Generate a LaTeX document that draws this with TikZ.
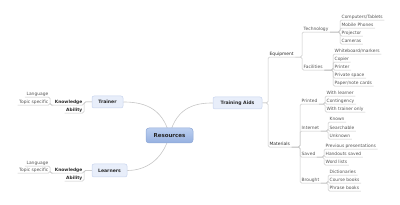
\documentclass[tikz,border=0pt]{standalone}
\usepackage{fontspec}
\setmainfont{DejaVu Sans}
\usetikzlibrary{backgrounds}
\definecolor{linec}{HTML}{C6C6C6}
\definecolor{leafc}{HTML}{555555}
\definecolor{darkc}{HTML}{2A2A2A}
\definecolor{boxfill}{HTML}{E8EEFA}
\definecolor{boxdraw}{HTML}{C7D4EE}
\definecolor{rtop}{HTML}{BCCFF0}
\definecolor{rbot}{HTML}{95B0E0}
\definecolor{rdraw}{HTML}{8EA8D6}
\begin{document}
\begin{tikzpicture}[x=1pt,y=-1pt,
  con/.style={draw=linec, line width=0.5pt, rounded corners=1.5pt},
  leaf/.style={inner xsep=1.5pt, inner ysep=0.8pt, text height=3.2pt, text depth=1pt,
    font=\fontsize{4.4}{5}\selectfont, text=leafc},
  rl/.style={leaf, anchor=west},
  ll/.style={leaf, anchor=east},
  sub/.style={text=darkc},
  subb/.style={text=darkc, font=\fontsize{4.4}{5}\selectfont\bfseries},
  mainbox/.style={draw=boxdraw, fill=boxfill, rounded corners=2pt, line width=0.5pt,
    font=\fontsize{4.6}{5}\selectfont\bfseries, text=darkc, inner sep=0pt, minimum height=12pt},
  rootbox/.style={draw=rdraw, top color=rtop, bottom color=rbot, rounded corners=3pt,
    line width=0.5pt, font=\fontsize{5.5}{6}\selectfont\bfseries, text=black!85,
    inner sep=0pt, minimum width=47pt, minimum height=15pt}]
\useasboundingbox (0,0) rectangle (400,205);

% main nodes
\node[rootbox] (res) at (169.5,135.5) {Resources};
\node[mainbox, minimum width=31pt] (tr) at (107.5,102) {Trainer};
\node[mainbox, minimum width=35pt, minimum height=13pt] (le) at (109.5,170.5) {Learners};
\node[mainbox, minimum width=49pt] (ta) at (237.5,103) {Training Aids};

% left: trainer
\node[ll, subb] (tk) at (84,102) {Knowledge};
\node[ll, subb] (tab) at (84,110) {Ability};
\node[ll] (tl) at (50,94) {Language};
\node[ll] (tt) at (50,102) {Topic specific};
% left: learners
\node[ll, subb] (lk) at (84,170) {Knowledge};
\node[ll, subb] (lab) at (84,178) {Ability};
\node[ll] (ll1) at (50,163) {Language};
\node[ll] (lt) at (50,170) {Topic specific};

% right: training aids
\node[rl, sub] (eq) at (268,54) {Equipment};
\node[rl, sub] (mat) at (268,144) {Materials};
\node[rl] (tech) at (302,29) {Technology};
\node[rl] (fac) at (302,67) {Facilities};
\node[rl] (t1) at (340,17) {Computers/Tablets};
\node[rl] (t2) at (340,25) {Mobile Phones};
\node[rl] (t3) at (340,33) {Projector};
\node[rl] (t4) at (340,41) {Cameras};
\node[rl] (f1) at (333,51) {Whiteboard/markers};
\node[rl] (f2) at (333,59) {Copier};
\node[rl] (f3) at (333,67) {Printer};
\node[rl] (f4) at (333,75) {Private space};
\node[rl] (f5) at (333,83) {Paper/note cards};
\node[rl] (pr) at (300,101) {Printed};
\node[rl] (in) at (300,128) {Internet};
\node[rl] (sa) at (300,154) {Saved};
\node[rl] (br) at (300,180) {Brought};
\node[rl] (p1) at (325,93) {With learner};
\node[rl] (p2) at (325,101) {Contingency};
\node[rl] (p3) at (325,109) {With trainer only};
\node[rl] (i1) at (328,119) {Known};
\node[rl] (i2) at (328,128) {Searchable};
\node[rl] (i3) at (328,136) {Unknown};
\node[rl] (s1) at (324,146) {Previous presentations};
\node[rl] (s2) at (324,154) {Handouts saved};
\node[rl] (s3) at (324,162) {Word lists};
\node[rl] (b1) at (328,172) {Dictionaries};
\node[rl] (b2) at (328,180) {Course books};
\node[rl] (b3) at (328,188) {Phrase books};

\begin{scope}[on background layer]
  % root curves
  \draw[draw=linec, line width=0.6pt] (res.center) .. controls +(-7,-30) and +(17,0) .. (tr.east);
  \draw[draw=linec, line width=0.6pt] (res.center) .. controls +(7,-30) and +(-15,0) .. (ta.west);
  \draw[draw=linec, line width=0.6pt] (res.center) .. controls +(-7,25) and +(18,0) .. (le.east);
  % trainer
  \foreach \c in {tk,tab} \draw[con] (tr.west) -- (tr.west -| \c.south east) |- (\c.south west);
  \foreach \c in {tl,tt} \draw[con] (tk.south west) -- (tk.south west -| \c.south east) |- (\c.south west);
  % learners
  \foreach \c in {lk,lab} \draw[con] (le.west) -- (le.west -| \c.south east) |- (\c.south west);
  \foreach \c in {ll1,lt} \draw[con] (lk.south west) -- (lk.south west -| \c.south east) |- (\c.south west);
  % training aids
  \foreach \c in {eq,mat} \draw[con] (ta.east) -- (ta.east -| \c.south west) |- (\c.south east);
  \foreach \c in {tech,fac} \draw[con] (eq.south east) -- (eq.south east -| \c.south west) |- (\c.south east);
  \foreach \c in {t1,t2,t3,t4} \draw[con] (tech.south east) -- (tech.south east -| \c.south west) |- (\c.south east);
  \foreach \c in {f1,f2,f3,f4,f5} \draw[con] (fac.south east) -- (fac.south east -| \c.south west) |- (\c.south east);
  \foreach \c in {pr,in,sa,br} \draw[con] (mat.south east) -- (mat.south east -| \c.south west) |- (\c.south east);
  \foreach \c in {p1,p2,p3} \draw[con] (pr.south east) -- (pr.south east -| \c.south west) |- (\c.south east);
  \foreach \c in {i1,i2,i3} \draw[con] (in.south east) -- (in.south east -| \c.south west) |- (\c.south east);
  \foreach \c in {s1,s2,s3} \draw[con] (sa.south east) -- (sa.south east -| \c.south west) |- (\c.south east);
  \foreach \c in {b1,b2,b3} \draw[con] (br.south east) -- (br.south east -| \c.south west) |- (\c.south east);
\end{scope}
\end{tikzpicture}
\end{document}
